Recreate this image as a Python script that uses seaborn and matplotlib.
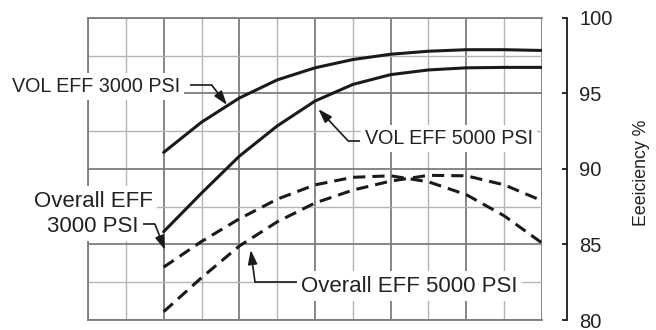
import pandas as pd
import seaborn as sns
import matplotlib.pyplot as plt
from matplotlib.ticker import MultipleLocator, NullFormatter

# curve values (x = grid column, y = efficiency %)
positions = [2, 3, 4, 5, 6, 7, 8, 9, 10, 11, 12]
vol_3000 = [91.1, 93.1, 94.7, 95.9, 96.7, 97.25, 97.6, 97.8, 97.9, 97.9, 97.85]
vol_5000 = [85.85, 88.4, 90.85, 92.85, 94.5, 95.6, 96.25, 96.56, 96.7, 96.73, 96.73]
overall_3000 = [83.5, 85.2, 86.7, 88.0, 88.95, 89.45, 89.55, 89.15, 88.3, 86.9, 85.1]
overall_5000 = [80.55, 82.8, 84.9, 86.5, 87.75, 88.6, 89.2, 89.58, 89.55, 88.95, 87.9]

series_names = ["VOL EFF 3000 PSI", "VOL EFF 5000 PSI", "Overall EFF 3000 PSI", "Overall EFF 5000 PSI"]
y_ticks = [80, 85, 90, 95, 100]
y_label = "Eeeiciency %"

ink = "#1a1a1a"


def build_frame():
    rows = []
    for name, vals in zip(series_names, [vol_3000, vol_5000, overall_3000, overall_5000]):
        for p, v in zip(positions, vals):
            rows.append({"pos": p, "eff": v, "series": name})
    return pd.DataFrame(rows)


def leader(ax, start, corner, tip):
    # horizontal piece from the label, then the arrow onto the curve
    ax.plot([start[0], corner[0]], [start[1], corner[1]], color=ink, lw=1.2,
            clip_on=False, zorder=6, solid_capstyle="butt")
    ax.annotate("", xy=tip, xytext=corner, zorder=6, annotation_clip=False,
                arrowprops=dict(arrowstyle="-|>,head_length=0.85,head_width=0.28",
                                mutation_scale=10, color=ink, lw=1.2,
                                shrinkA=0, shrinkB=0))


sns.set_style("white")
plt.rcParams["font.family"] = ["Liberation Sans", "DejaVu Sans"]

fig = plt.figure(figsize=(6.56, 3.30), dpi=100)
ax = fig.add_axes([88 / 656, 10 / 330, 454 / 656, 302 / 330])

df = build_frame()
sns.lineplot(data=df, x="pos", y="eff", hue="series", style="series",
             palette={n: ink for n in series_names},
             dashes={series_names[0]: "", series_names[1]: "",
                     series_names[2]: (4, 2.3), series_names[3]: (4, 2.3)},
             legend=False, lw=2.2, ax=ax, zorder=4)

ax.set_xlim(0, 12)
ax.set_ylim(80, 100)

# grid: darker every second line
ax.xaxis.set_major_locator(MultipleLocator(2))
ax.xaxis.set_minor_locator(MultipleLocator(1))
ax.yaxis.set_major_locator(MultipleLocator(5))
ax.yaxis.set_minor_locator(MultipleLocator(2.5))
ax.grid(which="major", color="#7d7d7d", lw=1.3)
ax.grid(which="minor", color="#b5b5b5", lw=1.0)
ax.set_axisbelow(True)
ax.tick_params(axis="x", which="both", length=0, labelbottom=False)
ax.set_xlabel("")

for side in ["left", "top", "bottom"]:
    ax.spines[side].set_color("#7d7d7d")
    ax.spines[side].set_linewidth(1.3)

# efficiency axis off to the right
ax.yaxis.tick_right()
ax.spines["right"].set_position(("outward", 18))
ax.spines["right"].set_color(ink)
ax.spines["right"].set_linewidth(1.3)
ax.set_yticks(y_ticks)
ax.yaxis.set_minor_formatter(NullFormatter())
ax.tick_params(axis="y", which="major", direction="in", length=3.5, width=1.3,
               color=ink, pad=9, labelsize=14.5, labelcolor="#222222")
ax.tick_params(axis="y", which="minor", length=0)
ax.set_ylabel("")
ax.text(1.2196, 0.487, y_label, transform=ax.transAxes, rotation=90,
        ha="center", va="center", fontsize=12.8, color="#222222")

box = dict(boxstyle="square,pad=0.2", fc="white", ec="none")

ax.text(-2.009, 95.08, series_names[0], fontsize=14.2, color="#222222",
        ha="left", va="baseline", bbox=box, zorder=5, clip_on=False)
leader(ax, (2.696, 95.56), (3.27, 95.56), (3.674, 94.24))

ax.text(7.32, 91.64, series_names[1], fontsize=14.2, color="#222222",
        ha="left", va="baseline", bbox=box, zorder=5)
leader(ax, (7.19, 91.87), (6.873, 91.87), (6.088, 93.97))

ax.text(0.132, 87.50, "Overall EFF", fontsize=16, color="#222222",
        ha="center", va="baseline", bbox=box, zorder=5, clip_on=False)
ax.text(0.132, 85.85, "3000 PSI", fontsize=16, color="#222222",
        ha="center", va="baseline", bbox=box, zorder=5, clip_on=False)
leader(ax, (1.446, 86.34), (1.771, 86.34), (2.035, 84.64))

ax.text(5.62, 81.87, series_names[3], fontsize=16, color="#222222",
        ha="left", va="baseline", bbox=box, zorder=5)
leader(ax, (5.517, 82.50), (4.414, 82.50), (4.301, 84.64))

fig.savefig("out.png", dpi=100)
